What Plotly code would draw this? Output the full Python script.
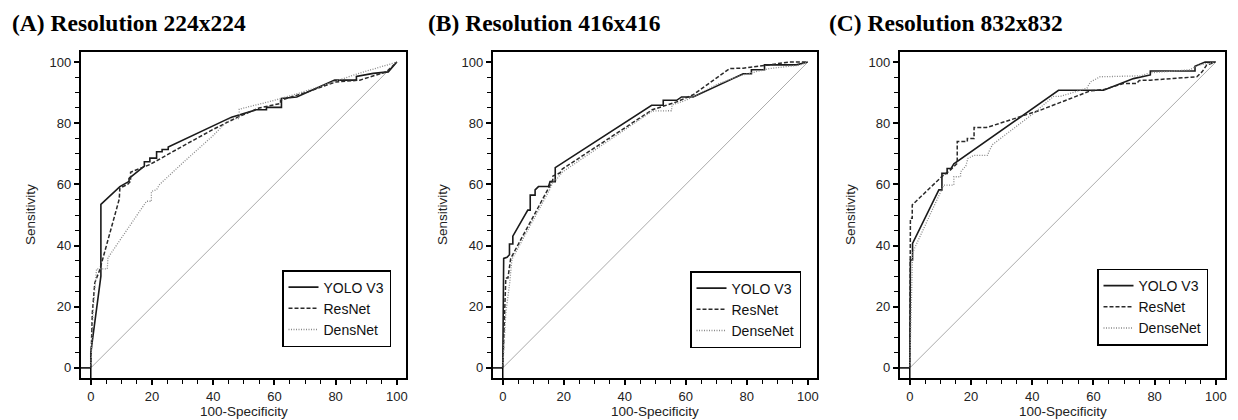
import plotly.graph_objects as go

# (A) Resolution 224x224
a_yolo_x = [0, 0, 3.3, 3.3, 9.5, 12.5, 12.5, 17.5, 17.5, 19.3, 19.3, 21.5, 21.5, 23.3, 23.3, 25.3, 25.3,
            46, 54, 57.4, 57.4, 62.3, 62.3, 67.3, 79.7, 86.8, 86.8, 92.3, 97.2, 100]
a_yolo_y = [0, 5, 30, 53.5, 59.3, 61, 62, 66, 67.4, 67.4, 68.6, 68.6, 70.7, 70.7, 71.4, 71.4, 72.2,
            82, 84.4, 84.4, 85.2, 85.2, 88.1, 88.6, 94.1, 94.1, 95.3, 96.3, 96.8, 100]
a_res_x = [0, 0.5, 1.3, 2.9, 9.3, 9.5, 12, 13, 13, 19.3, 30, 40, 48, 55, 62, 62, 70, 80, 87.9, 96.6, 100]
a_res_y = [0, 18, 27.8, 32, 55.2, 58.8, 60, 61, 64, 66.5, 72.5, 78, 82, 85, 86.5, 87.5, 90, 93.5, 94.1, 96.8, 100]
a_dens_x = [0, 0.8, 1.9, 5.4, 5.6, 18.2, 19.8, 19.8, 21.5, 22.5, 30, 40, 45.4, 48.5, 48.5, 54,
            60, 68.3, 74.8, 87.9, 100]
a_dens_y = [0, 20, 32.4, 32.4, 36, 54.5, 54.5, 57.7, 58.3, 60, 67, 76, 81.5, 81.5, 84.6, 86,
            87.5, 89.9, 92, 96.4, 100]

# (B) Resolution 416x416
b_yolo_x = [0, 0.3, 1.4, 2.2, 2.2, 3.3, 3.3, 8.2, 9, 9, 10.6, 10.6, 11.7, 15, 15.5, 17.2, 17.2,
            48.8, 52.6, 52.6, 57, 58.6, 62.4, 78.8, 81.5, 81.5, 85.8, 85.8, 96.2, 100]
b_yolo_y = [0, 35.8, 36.2, 37, 40.5, 40.5, 43.1, 51.6, 51.6, 56.5, 56.5, 58.2, 59.3, 59.3, 60.9, 60.9, 65.5,
            85.9, 85.9, 87.5, 87.5, 88.6, 88.6, 96.2, 96.2, 97.5, 97.5, 99.1, 99.1, 100]
b_res_x = [0, 0.5, 1, 1.7, 2.6, 15.3, 16.4, 16.4, 18.8, 19.5, 49, 57, 62.4, 74.4, 78.8, 86.4, 94, 100]
b_res_y = [0, 15, 29.4, 29.4, 35.8, 59.3, 61.5, 62.7, 63.8, 65, 84.4, 87, 89.3, 97.9, 98, 99, 100, 100]
b_dens_x = [0, 1, 2.3, 3, 15.5, 16.5, 17.5, 19.5, 49, 55.3, 55.5, 60, 70.9, 79, 87.5, 97.3, 100]
b_dens_y = [0, 18, 28, 35.5, 58.5, 61, 61.5, 64, 84, 84.1, 86, 87.5, 93, 95.9, 97.9, 99, 100]

# (C) Resolution 832x832
c_yolo_x = [0, 0.2, 0.9, 0.9, 9.5, 10.5, 10.5, 12.2, 12.2, 13.5, 14.4, 47.6, 48.6, 63.3, 73.1, 78.6, 78.6,
            93.2, 93.2, 96.5, 100]
c_yolo_y = [0, 35.3, 35.3, 40.7, 58.2, 58.2, 63.6, 63.6, 65.2, 65.2, 66.7, 90, 90.8, 90.8, 94.6, 95.8, 97.1,
            97.1, 98.6, 100, 100]
c_res_x = [0, 0.2, 0.8, 0.8, 10.4, 13, 15.5, 15.5, 18.8, 18.8, 21, 21, 25, 27, 42.7, 59, 63.3, 69.8, 74.1,
           75, 78.6, 93.8, 95.5, 97, 100]
c_res_y = [0, 48.9, 48.9, 53.3, 62.5, 64.5, 66.9, 74, 74, 75, 75, 78.6, 78.6, 79.2, 84.3, 90.6, 91, 93, 93,
           94, 94.1, 95.2, 96.8, 99, 100]
c_dens_x = [0, 0.5, 0.9, 1.5, 11.1, 14.4, 14.4, 16.6, 16.6, 18.3, 19, 21, 25.4, 26, 27, 40.5, 47, 49.2,
            57.9, 59, 62.2, 75.3, 78.6, 91.6, 94.3, 100]
c_dens_y = [0, 20, 37.5, 39, 59.8, 59.8, 62.5, 62.5, 64.1, 66, 68.5, 69.5, 69.5, 71, 73, 83.3, 88.8, 88.8,
            91.5, 93.5, 95.2, 95.5, 96.5, 97.5, 99, 100]

diag = [0, 100]

panels = [
    ("(A) Resolution 224x224", "DensNet", a_yolo_x, a_yolo_y, a_res_x, a_res_y, a_dens_x, a_dens_y),
    ("(B) Resolution 416x416", "DenseNet", b_yolo_x, b_yolo_y, b_res_x, b_res_y, b_dens_x, b_dens_y),
    ("(C) Resolution 832x832", "DenseNet", c_yolo_x, c_yolo_y, c_res_x, c_res_y, c_dens_x, c_dens_y),
]

# the html page keeps the default 8px body margin, so the figure is 8px smaller
OFF = 8
W, H = 1238 - OFF, 420 - OFF


def px(v):
    return (v - OFF) / W


def py(v):
    return 1 - (v - OFF) / H


# box edges in page pixels for each panel
x_boxes = [(81, 406), (493, 817), (900, 1225)]
y_box = (52, 378)
title_left = [10, 426, 827]
ytitle_x = [30, 442, 850]
legend_pos = [(391, 308.5), (801, 309.5), (1208, 307)]

fig = go.Figure()
annotations = []
shapes = []

for i, (title, dname, yx, yy, rx, ry, dx, dy) in enumerate(panels):
    n = "" if i == 0 else str(i + 1)
    xa, ya, lg = "x" + n, "y" + n, "legend" + n

    fig.add_trace(go.Scatter(x=diag, y=diag, mode="lines", xaxis=xa, yaxis=ya,
                             line=dict(color="#a0a0a0", width=0.9), showlegend=False, hoverinfo="skip"))
    fig.add_trace(go.Scatter(x=yx, y=yy, mode="lines", name="YOLO V3", xaxis=xa, yaxis=ya, legend=lg,
                             line=dict(color="#1a1a1a", width=1.6)))
    fig.add_trace(go.Scatter(x=rx, y=ry, mode="lines", name="ResNet", xaxis=xa, yaxis=ya, legend=lg,
                             line=dict(color="#2a2a2a", width=1.5, dash="4px,2px")))
    fig.add_trace(go.Scatter(x=dx, y=dy, mode="lines", name=dname, xaxis=xa, yaxis=ya, legend=lg,
                             line=dict(color="#8a8a8a", width=1.3, dash="1px,1.5px")))

    x0, x1 = x_boxes[i]
    axis_common = dict(
        showline=True, mirror=True, linecolor="black", linewidth=2.2,
        ticks="outside", ticklen=5, tickwidth=1.5, tickcolor="black",
        minor=dict(dtick=5, ticks="outside", ticklen=4, tickwidth=1.2, tickcolor="black"),
        showgrid=False, zeroline=False, dtick=20, tick0=0,
        tickfont=dict(family="Liberation Sans, Arial", size=13, color="#222"),
        automargin=False,
    )
    fig.update_layout({
        "xaxis" + n: dict(axis_common, domain=[px(x0), px(x1)], range=[-3.2, 103], anchor=ya),
        "yaxis" + n: dict(axis_common, domain=[py(y_box[1]), py(y_box[0])], range=[-3.3, 103.3],
                          anchor=xa),
        lg: dict(x=px(legend_pos[i][0]), y=py(legend_pos[i][1]), xanchor="right", yanchor="middle",
                 bordercolor="black", borderwidth=1.5, bgcolor="white",
                 font=dict(family="Liberation Sans, Arial", size=14, color="#111"),
                 tracegroupgap=0, itemwidth=30),
    })

    # small frame near the origin (axis stubs)
    shapes.append(dict(type="line", xref=xa, yref=ya, x0=-3.2, x1=0, y0=0, y1=0,
                       line=dict(color="black", width=1.5)))
    shapes.append(dict(type="line", xref=xa, yref=ya, x0=0, x1=0, y0=-3.3, y1=0,
                       line=dict(color="black", width=1.5)))

    annotations.append(dict(text="<b>" + title + "</b>", x=px(title_left[i]), y=py(22.5),
                            xref="paper", yref="paper", xanchor="left", yanchor="middle", showarrow=False,
                            font=dict(family="Liberation Serif, Times New Roman", size=23.5, color="black")))
    annotations.append(dict(text="100-Specificity", x=px((x0 + x1) / 2), y=py(411),
                            xref="paper", yref="paper", xanchor="center", yanchor="middle", showarrow=False,
                            font=dict(family="Liberation Sans, Arial", size=13.5, color="#222")))
    annotations.append(dict(text="Sensitivity", x=px(ytitle_x[i]), y=py((y_box[0] + y_box[1]) / 2),
                            xref="paper", yref="paper", xanchor="center", yanchor="middle", showarrow=False,
                            textangle=-90,
                            font=dict(family="Liberation Sans, Arial", size=13.5, color="#222")))

fig.update_layout(
    width=W, height=H,
    margin=dict(l=0, r=0, t=0, b=0),
    plot_bgcolor="white", paper_bgcolor="white",
    annotations=annotations, shapes=shapes,
)

fig.write_html("out.html")
